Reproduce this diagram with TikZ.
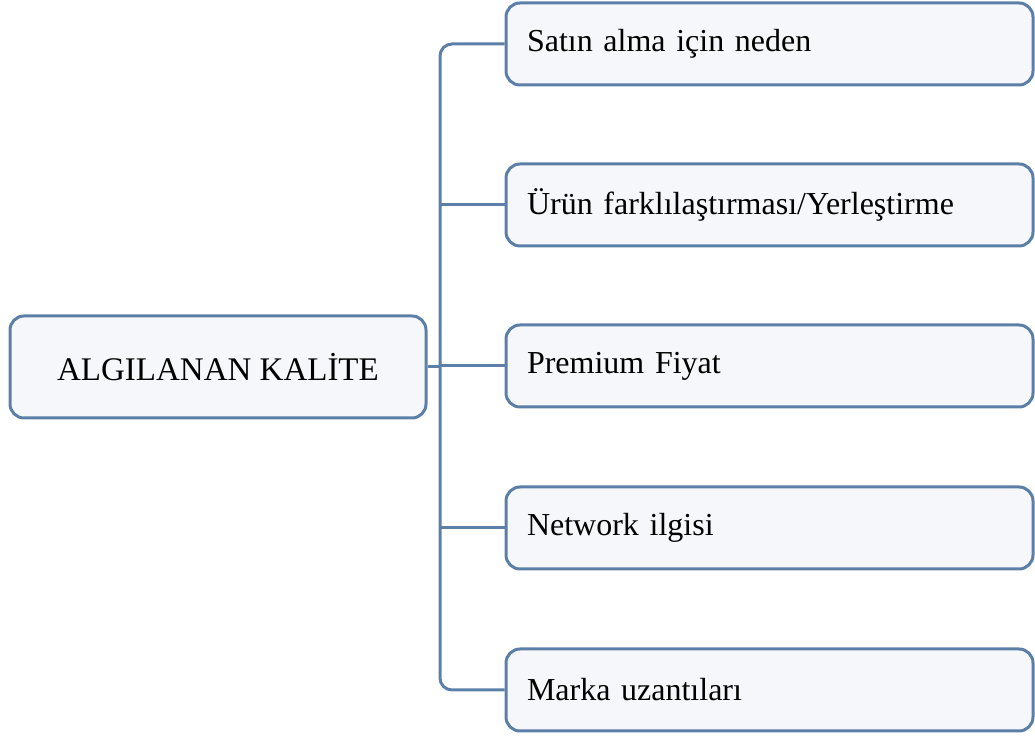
\documentclass[tikz,border=0pt]{standalone}
\usepackage{fontspec}
\setmainfont{Liberation Serif}
\usepackage{xcolor}
\definecolor{linecol}{HTML}{5B7FA6}
\definecolor{boxfill}{HTML}{F5F7FA}
\tikzset{
  rootbox/.style={draw=linecol,line width=3pt,fill=boxfill,rounded corners=14pt,
    minimum width=416pt,minimum height=102pt,font=\fontsize{33}{38}\selectfont},
  itembox/.style={draw=linecol,line width=3pt,fill=boxfill,rounded corners=14pt,
    minimum width=527pt,minimum height=82pt,inner xsep=21pt,text width=485pt,
    align=left,font=\fontsize{32}{37}\selectfont}
}
\begin{document}
\begin{tikzpicture}[x=1pt,y=1pt]
\tikzset{link/.style={draw=linecol,line width=3pt}}
\useasboundingbox (0,0) rectangle (1035,738);
\draw (218,371) node[rootbox](quality) {ALGILANAN KALİTE};
\draw (769.5,694) node[itembox](reason) {Satın alma için neden};
\draw (769.5,533) node[itembox](diff) {Ürün farklılaştırması/Yerleştirme};
\draw (769.5,372) node[itembox](premium) {Premium Fiyat};
\draw (769.5,210) node[itembox](network) {Network ilgisi};
\draw (769.5,48) node[itembox](brand) {Marka uzantıları};
\coordinate (trunk) at (440,371);
\draw[link] (quality) -- (trunk);
\draw[link,rounded corners=12pt] (reason.west) -| (trunk) |- (brand.west);
\draw[link] (diff.west) -- (diff.west -| trunk);
\draw[link] (premium.west) -- (premium.west -| trunk);
\draw[link] (network.west) -- (network.west -| trunk);
\end{tikzpicture}
\end{document}
